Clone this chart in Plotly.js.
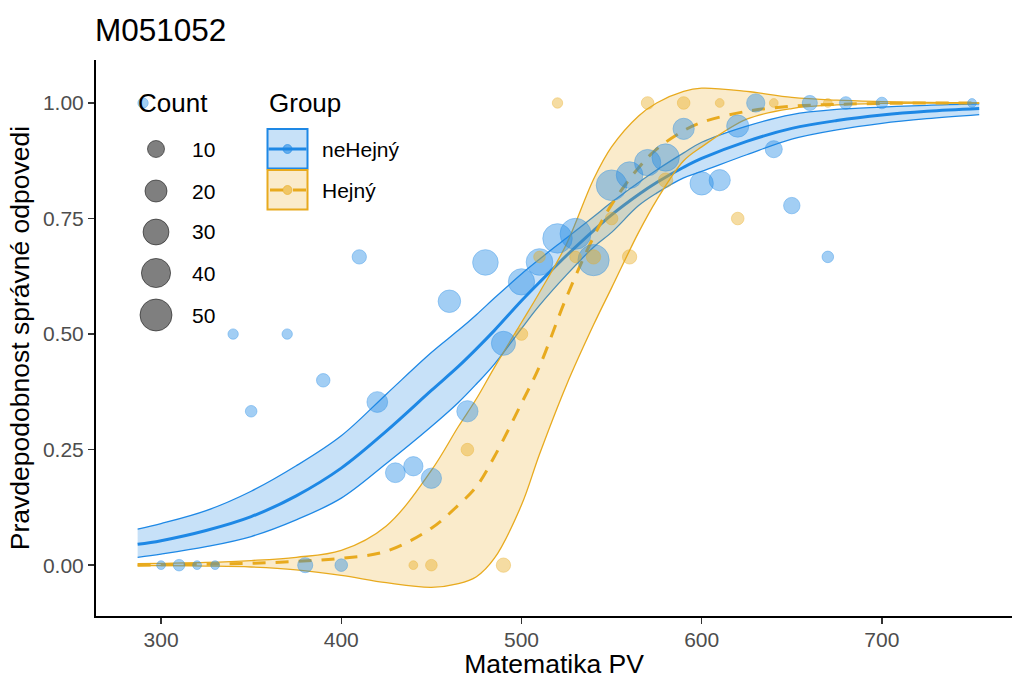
<!DOCTYPE html>
<html><head><meta charset="utf-8">
<script src="https://cdn.plot.ly/plotly-3.0.1.min.js"></script>
<style>html,body{margin:0;padding:0;background:#fff}#chart{width:1012px;height:679px}</style>
</head><body><div id="chart"></div>
<script>
// ---------- data ----------
const groupNames = ['neHejný', 'Hejný'];

// observed proportions (neHejný)
const blueX = [290,300,310,320,330,340,350,370,380,390,400,410,420,430,440,450,460,470,480,490,500,510,520,530,540,550,560,570,580,590,600,610,620,630,640,650,660,670,680,700,750];
const blueY = [1,0,0,0,0,0.5,0.333,0.5,0,0.4,0,0.667,0.353,0.2,0.214,0.188,0.571,0.333,0.655,0.48,0.613,0.656,0.707,0.717,0.66,0.822,0.844,0.871,0.882,0.944,0.826,0.833,0.95,1,0.9,0.778,1,0.667,1,1,1];
const blueN = [2,1,3,1,1,2,3,2,7,5,4,6,17,15,14,16,21,18,29,25,31,32,41,46,47,45,32,31,34,18,23,18,20,12,10,9,7,3,4,3,1];

// observed proportions (Hejný)
const goldX = [440,450,470,490,500,510,520,530,540,550,560,570,580,590,610,620,640,670];
const goldY = [0,0,0.25,0,0.5,0.667,1,0.667,0.667,0.75,0.667,1,0.833,1,1,0.75,1,1];
const goldN = [1,3,4,6,4,3,2,3,6,4,6,4,6,4,1,4,1,1];

// fitted curves with confidence band
const curveX    = [287,300,325,350,375,400,425,450,465,475,485,500,510,525,540,550,565,575,590,600,625,650,675,700,725,754];
const blueFit   = [0.045,0.053,0.075,0.105,0.150,0.210,0.290,0.378,0.430,0.468,0.508,0.572,0.612,0.670,0.724,0.758,0.802,0.828,0.861,0.880,0.917,0.945,0.962,0.974,0.982,0.988];
const blueUpper = [0.078,0.090,0.118,0.160,0.215,0.280,0.370,0.460,0.508,0.542,0.578,0.630,0.662,0.708,0.754,0.785,0.828,0.855,0.892,0.915,0.950,0.975,0.986,0.991,0.995,0.998];
const blueLower = [0.017,0.024,0.040,0.062,0.098,0.145,0.220,0.300,0.352,0.392,0.435,0.512,0.562,0.628,0.688,0.720,0.778,0.805,0.838,0.852,0.888,0.922,0.942,0.956,0.966,0.975];
const goldFit   = [0.000,0.001,0.002,0.004,0.008,0.015,0.030,0.080,0.130,0.170,0.235,0.350,0.430,0.580,0.710,0.780,0.860,0.900,0.940,0.958,0.982,0.993,0.997,0.999,1.000,1.000];
const goldUpper = [0.003,0.004,0.006,0.010,0.017,0.032,0.085,0.205,0.300,0.360,0.428,0.525,0.590,0.695,0.835,0.905,0.972,1.000,1.025,1.032,1.025,1.012,1.006,1.003,1.001,1.000];
const goldLower = [-0.001,-0.001,-0.002,-0.004,-0.010,-0.022,-0.038,-0.048,-0.040,-0.025,0.015,0.130,0.240,0.390,0.520,0.600,0.720,0.790,0.875,0.905,0.965,0.988,0.996,0.999,1.000,1.000];

const countBreaks = [10,20,30,40,50];
const xTicks = [300,400,500,600,700];
const yTicks = [0,0.25,0.5,0.75,1];
const yTickLabels = ['0.00','0.25','0.50','0.75','1.00'];

// ---------- style ----------
const F = 'Liberation Sans, Arial, Helvetica, sans-serif';
const BLUE = 'rgb(30,136,229)';
const GOLD = 'rgb(232,170,30)';
const BLUE_FILL = 'rgba(30,136,229,0.25)';
const GOLD_FILL = 'rgba(232,170,30,0.23)';
const BLUE_PT = 'rgba(30,136,229,0.58)';
const GOLD_PT = 'rgba(232,170,30,0.58)';
const DASH = '13px,10px';
function sz(n){ return 4.9 + 3.84*Math.sqrt(n); }

// plot area in pixels
const PL=96, PR=1012, PT=60, PB=616;
const px2x = p => (p-PL)/(PR-PL);
const py2y = p => (PB-p)/(PB-PT);

const traces = [
  {x:curveX, y:blueLower, type:'scatter', mode:'lines', line:{color:BLUE,width:1.3,shape:'spline'}, hoverinfo:'skip'},
  {x:curveX, y:blueUpper, type:'scatter', mode:'lines', fill:'tonexty', fillcolor:BLUE_FILL, line:{color:BLUE,width:1.3,shape:'spline'}, hoverinfo:'skip'},
  {x:curveX, y:blueFit, type:'scatter', mode:'lines', name:groupNames[0], line:{color:BLUE,width:3,shape:'spline'}},
  {x:curveX, y:goldLower, type:'scatter', mode:'lines', line:{color:GOLD,width:1.3,shape:'spline'}, hoverinfo:'skip'},
  {x:curveX, y:goldUpper, type:'scatter', mode:'lines', fill:'tonexty', fillcolor:GOLD_FILL, line:{color:GOLD,width:1.3,shape:'spline'}, hoverinfo:'skip'},
  {x:curveX, y:goldFit, type:'scatter', mode:'lines', name:groupNames[1], line:{color:GOLD,width:3,dash:DASH,shape:'spline'}},
  {x:blueX, y:blueY, type:'scatter', mode:'markers', name:groupNames[0],
   marker:{size:blueN.map(sz), color:BLUE_PT, line:{color:BLUE_PT,width:1}}},
  {x:goldX, y:goldY, type:'scatter', mode:'markers', name:groupNames[1],
   marker:{size:goldN.map(sz), color:GOLD_PT, line:{color:GOLD_PT,width:1}}}
];

// ---------- manual legends ----------
const shapes = [];
const annotations = [];
// Count legend
annotations.push({xref:'paper',yref:'paper',x:px2x(136),y:py2y(103),xanchor:'left',yanchor:'middle',text:'Count',showarrow:false,font:{family:F,size:26,color:'#000'}});
const countY = [149,191,232,273,315];
countBreaks.forEach((c,i)=>{
  const d = sz(c);
  shapes.push({type:'circle',xref:'paper',yref:'paper',xsizemode:'pixel',ysizemode:'pixel',
    xanchor:px2x(156),yanchor:py2y(countY[i]),x0:-d/2,x1:d/2,y0:-d/2,y1:d/2,
    fillcolor:'rgba(0,0,0,0.5)',line:{color:'rgba(0,0,0,0.5)',width:1}});
  annotations.push({xref:'paper',yref:'paper',x:px2x(190),y:py2y(countY[i]),xanchor:'left',yanchor:'middle',text:String(c),showarrow:false,font:{family:F,size:21,color:'#000'}});
});
// Group legend
annotations.push({xref:'paper',yref:'paper',x:px2x(267),y:py2y(103),xanchor:'left',yanchor:'middle',text:'Group',showarrow:false,font:{family:F,size:26,color:'#000'}});
const grp = [
  {y0:129, y1:168.5, yc:149, col:BLUE, fill:BLUE_FILL, pt:BLUE_PT, dash:'solid'},
  {y0:170, y1:209.5, yc:190, col:GOLD, fill:GOLD_FILL, pt:GOLD_PT, dash:DASH}
];
grp.forEach((g,i)=>{
  shapes.push({type:'rect',xref:'paper',yref:'paper',x0:px2x(267.5),x1:px2x(307.5),y0:py2y(g.y1),y1:py2y(g.y0),fillcolor:g.fill,line:{color:g.col,width:2}});
  shapes.push({type:'line',xref:'paper',yref:'paper',x0:px2x(i===0?268.5:270),x1:px2x(306.5),y0:py2y(g.yc),y1:py2y(g.yc),line:{color:g.col,width:3,dash:g.dash}});
  shapes.push({type:'circle',xref:'paper',yref:'paper',xsizemode:'pixel',ysizemode:'pixel',
    xanchor:px2x(287.5),yanchor:py2y(g.yc),x0:-4.5,x1:4.5,y0:-4.5,y1:4.5,fillcolor:g.pt,line:{color:g.pt,width:1}});
  annotations.push({xref:'paper',yref:'paper',x:px2x(320),y:py2y(g.yc),xanchor:'left',yanchor:'middle',text:groupNames[i],showarrow:false,font:{family:F,size:21,color:'#000'}});
});

const layout = {
  width:1012, height:679,
  margin:{l:PL, r:1012-PR, t:PT, b:679-PB},
  paper_bgcolor:'#fff', plot_bgcolor:'#fff',
  showlegend:false,
  font:{family:F, color:'#000'},
  title:{text:'M051052', font:{family:F,size:31.5,color:'#000'}, xref:'container', x:95/1012, xanchor:'left', yref:'container', y:1-30/679, yanchor:'middle'},
  xaxis:{range:[263.9,772.2], tickmode:'array', tickvals:xTicks, ticktext:xTicks.map(String),
    showgrid:false, zeroline:false, showline:true, linecolor:'#000', linewidth:2,
    ticks:'outside', ticklen:6, tickwidth:1.5, tickcolor:'#333', ticklabelstandoff:-2,
    tickfont:{family:F,size:21,color:'#4D4D4D'},
    title:{text:'Matematika PV', font:{family:F,size:26.5,color:'#000'}, standoff:7}},
  yaxis:{range:[-0.11,1.093], tickmode:'array', tickvals:yTicks, ticktext:yTickLabels,
    showgrid:false, zeroline:false, showline:true, linecolor:'#000', linewidth:2,
    ticks:'outside', ticklen:6, tickwidth:1.5, tickcolor:'#333',
    tickfont:{family:F,size:21,color:'#4D4D4D'},
    title:{text:'Pravdepodobnost správné odpovedi', font:{family:F,size:26.5,color:'#000'}, standoff:6}},
  shapes:shapes,
  annotations:annotations
};

Plotly.newPlot('chart', traces, layout, {staticPlot:true, displayModeBar:false});
</script>
</body></html>
